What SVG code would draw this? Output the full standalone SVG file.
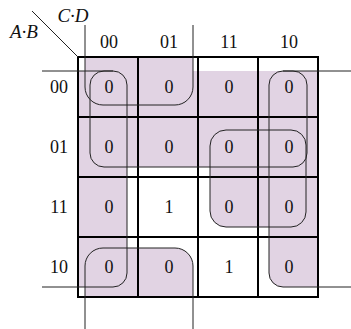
<svg xmlns="http://www.w3.org/2000/svg" width="351" height="329" viewBox="0 0 351 329">
<style>
.shade{fill:#e1d3e3;stroke:none}
.loop{fill:none;stroke:#222;stroke-width:1}
.grid{fill:none;stroke:#000;stroke-width:2}
.t{font-family:"Liberation Serif","Times New Roman",serif;font-size:18px;fill:#111;text-anchor:middle}
.it{font-style:italic;font-size:19px}
</style>
<rect width="351" height="329" fill="#fff"/>
<g id="shading">
<path class="shade" d="M85,57 H193 V87 A18,18 0 0 1 175,105 H103 A18,18 0 0 1 85,87 Z"/>
<path class="shade" d="M85,297 H193 V266 A18,18 0 0 0 175,248 H103 A18,18 0 0 0 85,266 Z"/>
<path class="shade" d="M78,71 H113 A14,14 0 0 1 127,85 V273 A14,14 0 0 1 113,287 H78 Z"/>
<path class="shade" d="M318,71 H283 A14,14 0 0 0 269,85 V273 A14,14 0 0 0 283,287 H318 Z"/>
<path class="shade" d="M104,71 H293 A14,14 0 0 1 307,85 V153 A14,14 0 0 1 293,167 H104 A14,14 0 0 1 90,153 V85 A14,14 0 0 1 104,71 Z"/>
<path class="shade" d="M226,130 H291 A15,15 0 0 1 306,145 V212 A15,15 0 0 1 291,227 H226 A16,16 0 0 1 210,211 V146 A16,16 0 0 1 226,130 Z"/>
</g>
<g id="grid">
<rect class="grid" x="78" y="57" width="240" height="240"/>
<path class="grid" d="M138,57 V297 M198,57 V297 M258,57 V297 M78,117 H318 M78,177 H318 M78,237 H318"/>
<path class="loop" d="M32,11 L78,57"/>
</g>
<g id="connectors">
<path class="loop" d="M85,25 V87 A18,18 0 0 0 103,105 H175 A18,18 0 0 0 193,87 V25"/>
<path class="loop" d="M85,329 V266 A18,18 0 0 1 103,248 H175 A18,18 0 0 1 193,266 V329"/>
<path class="loop" d="M42,71 H113 A14,14 0 0 1 127,85 V273 A14,14 0 0 1 113,287 H42"/>
<path class="loop" d="M351,71 H283 A14,14 0 0 0 269,85 V273 A14,14 0 0 0 283,287 H351"/>
<path class="loop" d="M113,71 H104 A14,14 0 0 0 90,85 V153 A14,14 0 0 0 104,167 H293 A14,14 0 0 0 307,153 V85 A14,14 0 0 0 293,71 H283"/>
<path class="loop" d="M226,130 H291 A15,15 0 0 1 306,145 V212 A15,15 0 0 1 291,227 H226 A16,16 0 0 1 210,211 V146 A16,16 0 0 1 226,130 Z"/>
</g>
<g id="labels">
<text class="t it" x="73" y="22">C·D</text>
<text class="t it" x="24" y="38">A·B</text>
<text class="t" x="109" y="48">00</text>
<text class="t" x="169" y="48">01</text>
<text class="t" x="229" y="48">11</text>
<text class="t" x="289" y="48">10</text>
<text class="t" x="59" y="93">00</text>
<text class="t" x="59" y="153">01</text>
<text class="t" x="59" y="213">11</text>
<text class="t" x="59" y="273">10</text>
</g>
<g id="cells">
<text class="t" x="109" y="93">0</text>
<text class="t" x="169" y="93">0</text>
<text class="t" x="229" y="93">0</text>
<text class="t" x="289" y="93">0</text>
<text class="t" x="109" y="153">0</text>
<text class="t" x="169" y="153">0</text>
<text class="t" x="229" y="153">0</text>
<text class="t" x="289" y="153">0</text>
<text class="t" x="109" y="213">0</text>
<text class="t" x="169" y="213">1</text>
<text class="t" x="229" y="213">0</text>
<text class="t" x="289" y="213">0</text>
<text class="t" x="109" y="273">0</text>
<text class="t" x="169" y="273">0</text>
<text class="t" x="229" y="273">1</text>
<text class="t" x="289" y="273">0</text>
</g>
</svg>
